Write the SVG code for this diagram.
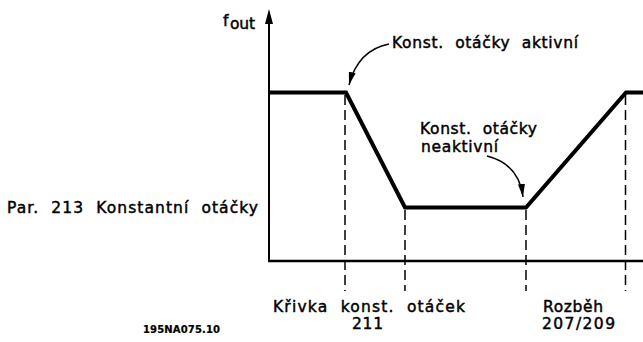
<svg xmlns="http://www.w3.org/2000/svg" width="643" height="342" viewBox="0 0 643 342">
<defs>
<style>
.t{font-family:"DejaVu Sans","Liberation Sans",sans-serif;font-size:15.5px;fill:#000;stroke:#000;stroke-width:0.45;white-space:pre}
.s{font-size:10px;font-weight:bold;stroke-width:0.2}
.dash{stroke:#000;stroke-width:1.5;stroke-dasharray:10 5;fill:none}
.curve{stroke:#000;stroke-width:4;fill:none;stroke-linejoin:miter}
.ax{stroke:#000;fill:none}
.lead{stroke:#000;stroke-width:1.5;fill:none}
</style>
<marker id="ah" markerUnits="userSpaceOnUse" markerWidth="14" markerHeight="8" refX="13" refY="3.5" orient="auto">
<path d="M0,0 L13,3.5 L0,7 z" fill="#000"/>
</marker>
</defs>
<rect width="643" height="342" fill="#fff"/>
<g id="axes">
<line class="ax" x1="269" y1="20" x2="269" y2="262" stroke-width="2"/>
<polygon points="269,9 265,24 273,24" fill="#000"/>
<line class="ax" x1="268" y1="261" x2="643" y2="261" stroke-width="2.5"/>
<text class="t" x="223" y="26">f</text>
<text class="t" x="230" y="29" font-size="13" textLength="25">out</text>
</g>
<g id="guides">
<line class="dash" x1="345" y1="95" x2="345" y2="291"/>
<line class="dash" x1="405" y1="210" x2="405" y2="291"/>
<line class="dash" x1="526" y1="210" x2="526" y2="291"/>
<line class="dash" x1="625.5" y1="95" x2="625.5" y2="291"/>
</g>
<g id="profile">
<polyline class="curve" points="269,92.5 346,92.5 405,207.5 526,207.5 626,92.5 643,92.5"/>
</g>
<g id="connectors">
<path class="lead" d="M389,44 Q358,50 349,85" marker-end="url(#ah)"/>
<path class="lead" d="M487,156 Q519,164 523,197" marker-end="url(#ah)"/>
</g>
<g id="label-active">
<text class="t" x="392" y="48" textLength="186">Konst.  otáčky  aktivní</text>
</g>
<g id="label-inactive">
<text class="t" x="420" y="134" textLength="117">Konst.  otáčky</text>
<text class="t" x="421" y="151.5" textLength="77">neaktivní</text>
</g>
<g id="label-par">
<text class="t" x="7" y="213" textLength="251">Par.  213  Konstantní  otáčky</text>
</g>
<g id="label-ramp">
<text class="t" x="273" y="312" textLength="192">Křivka  konst.  otáček</text>
<text class="t" x="352" y="329" textLength="31">211</text>
</g>
<g id="label-rozbeh">
<text class="t" x="543" y="312" textLength="60">Rozběh</text>
<text class="t" x="542" y="329" textLength="73">207/209</text>
</g>
<g id="code">
<text class="t s" x="143" y="333" textLength="77">195NA075.10</text>
</g>
</svg>
